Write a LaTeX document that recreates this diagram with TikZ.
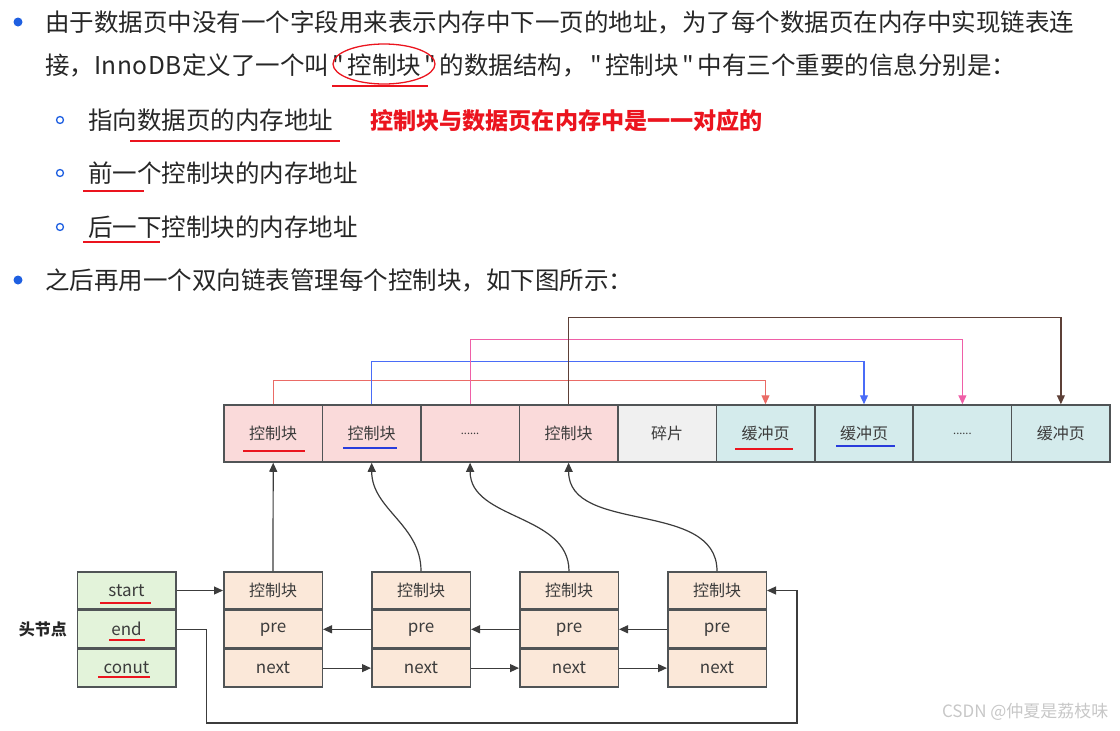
\documentclass[tikz,border=0pt]{standalone}
\usepackage{fontspec}
\setmainfont{Noto Sans CJK SC}[Ligatures=TeXOff]
\usetikzlibrary{positioning, arrows.meta}
\definecolor{TextGray}{RGB}{38, 38, 38}
\definecolor{DiagText}{RGB}{60, 60, 60}
\definecolor{BulletBlue}{RGB}{30, 95, 225}
\definecolor{BorderGray}{RGB}{80, 84, 86}
\definecolor{CtrlPink}{RGB}{250, 218, 218}
\definecolor{FragGray}{RGB}{240, 240, 240}
\definecolor{BufCyan}{RGB}{212, 235, 236}
\definecolor{NodeOrange}{RGB}{251, 232, 217}
\definecolor{HeadGreen}{RGB}{227, 243, 218}
\definecolor{MarkRed}{RGB}{235, 20, 30}
\definecolor{MarkBlue}{RGB}{40, 60, 220}
\definecolor{LinkRed}{RGB}{234, 107, 102}
\definecolor{LinkBlue}{RGB}{74, 108, 247}
\definecolor{LinkPink}{RGB}{239, 95, 167}
\definecolor{LinkBrown}{RGB}{93, 64, 55}
\definecolor{LinkGray}{RGB}{60, 60, 60}
\newcommand{\qmark}{\kern3.5pt"\kern3.5pt}

\begin{document}
\begin{tikzpicture}[x=1pt, y=-1pt,
    para/.style={anchor=base west, inner sep=0pt, text=TextGray, font=\fontsize{24.5}{28}\selectfont},
    membox/.style={draw=BorderGray, line width=1.5pt, minimum width=98.5pt, minimum height=57pt, inner sep=0pt, text=DiagText, font=\fontsize{16}{16}\selectfont},
    cell/.style={draw=BorderGray, line width=1.5pt, minimum width=98.5pt, minimum height=37.3pt, inner sep=0pt, text=DiagText, font=\fontsize{17}{17}\selectfont},
    redline/.style={line width=1.6pt},
    link/.style={line width=1.2pt, -{Triangle[length=9pt, width=8pt]}},
  ]
  \useasboundingbox (0,0) rectangle (1120,731);

  % Bullet text
  \fill[BulletBlue] (18,22) circle (4.5);
  \node[para] (line1) at (45,31) {由于数据页中没有一个字段用来表示内存中下一页的地址，为了每个数据页在内存中实现链表连};
  \node[para] (line2) at (45,74) {接，I\kern.5pt n\kern.5pt n\kern.5pt o\kern.5pt D\kern.5pt B\kern.5pt 定义了一个叫\qmark 控制块\qmark 的数据结构，\qmark 控制块\qmark 中有三个重要的信息分别是：};
  \draw[MarkRed, line width=1.3pt] (384,64) ellipse (51 and 20);
  \draw[MarkRed, line width=1.1pt] (332,86) -- (428,86);

  \draw[BulletBlue, line width=1.3pt] (60,120) circle (3.5);
  \node[para] (item1) at (88,129) {指向数据页的内存地址};
  \node[anchor=base west, inner sep=0pt, text=MarkRed, font=\fontsize{23.1}{26}\selectfont\bfseries] (note) at (370,129) {控制块与数据页在内存中是一一对应的};
  \draw[MarkRed, redline] (130,141) -- (340,141);

  \draw[BulletBlue, line width=1.3pt] (60,173) circle (3.5);
  \node[para] (item2) at (88,182) {前一个控制块的内存地址};
  \draw[MarkRed, redline] (83,191) -- (144,191);

  \draw[BulletBlue, line width=1.3pt] (60,227) circle (3.5);
  \node[para] (item3) at (88,236) {后一下控制块的内存地址};
  \draw[MarkRed, redline] (83,242) -- (160,242);

  \fill[BulletBlue] (18,280) circle (4.5);
  \node[para] (line3) at (45,289) {之后再用一个双向链表管理每个控制块，如下图所示：};

  % Memory row
  \node[membox, fill=CtrlPink] (mem1) at (273.2,433.5) {控制块};
  \node[membox, fill=CtrlPink] (mem2) at (371.7,433.5) {控制块};
  \node[membox, fill=CtrlPink] (mem3) at (470.1,433.5) {\fontsize{11}{11}\selectfont ......};
  \node[membox, fill=CtrlPink] (mem4) at (568.6,433.5) {控制块};
  \node[membox, fill=FragGray] (mem5) at (667.0,433.5) {碎片};
  \node[membox, fill=BufCyan] (mem6) at (765.5,433.5) {缓冲页};
  \node[membox, fill=BufCyan] (mem7) at (864.0,433.5) {缓冲页};
  \node[membox, fill=BufCyan] (mem8) at (962.4,433.5) {\fontsize{11}{11}\selectfont ......};
  \node[membox, fill=BufCyan] (mem9) at (1060.9,433.5) {缓冲页};
  \draw[MarkRed, redline] (243,451) -- (305,451);
  \draw[MarkBlue, redline] (343,448) -- (397,448);
  \draw[MarkRed, redline] (735,449) -- (793,449);
  \draw[MarkBlue, redline] (836,446) -- (895,446);

  % Control block to buffer page
  \draw[link, LinkRed] (mem1.north) -- ++(0,-24) -| (mem6.north);
  \draw[link, LinkBlue] (mem2.north) -- ++(0,-43) -| (mem7.north);
  \draw[link, LinkPink] (mem3.north) -- ++(0,-65) -| (mem8.north);
  \draw[link, LinkBrown] (mem4.north) -- ++(0,-87) -| (mem9.north);

  % Head node
  \node[cell, fill=HeadGreen] (start) at (126.5,590.5) {start};
  \node[cell, fill=HeadGreen, below=0pt of start] (end) {end};
  \node[cell, fill=HeadGreen, below=0pt of end] (conut) {conut};
  \node[font=\fontsize{16}{16}\selectfont\bfseries, text=TextGray, left=6pt of end] (head) {头节点};
  \draw[MarkRed, redline] (100,603) -- (151,603);
  \draw[MarkRed, redline] (109,640) -- (145,640);
  \draw[MarkRed, redline] (98,677) -- (150,677);

  % Control blocks
  \node[cell, fill=NodeOrange, font=\fontsize{16}{16}\selectfont] (blk1) at (273,590.5) {控制块};
  \node[cell, fill=NodeOrange, below=0pt of blk1] (pre1) {pre};
  \node[cell, fill=NodeOrange, below=0pt of pre1] (next1) {next};
  \node[cell, fill=NodeOrange, font=\fontsize{16}{16}\selectfont] (blk2) at (421,590.5) {控制块};
  \node[cell, fill=NodeOrange, below=0pt of blk2] (pre2) {pre};
  \node[cell, fill=NodeOrange, below=0pt of pre2] (next2) {next};
  \node[cell, fill=NodeOrange, font=\fontsize{16}{16}\selectfont] (blk3) at (569,590.5) {控制块};
  \node[cell, fill=NodeOrange, below=0pt of blk3] (pre3) {pre};
  \node[cell, fill=NodeOrange, below=0pt of pre3] (next3) {next};
  \node[cell, fill=NodeOrange, font=\fontsize{16}{16}\selectfont] (blk4) at (717,590.5) {控制块};
  \node[cell, fill=NodeOrange, below=0pt of blk4] (pre4) {pre};
  \node[cell, fill=NodeOrange, below=0pt of pre4] (next4) {next};

  % Links between blocks
  \draw[link, LinkGray] (start.east) -- (blk1.west);
  \draw[link, LinkGray] (pre2.west) -- (pre1.east);
  \draw[link, LinkGray] (pre3.west) -- (pre2.east);
  \draw[link, LinkGray] (pre4.west) -- (pre3.east);
  \draw[link, LinkGray] (next1.east) -- (next2.west);
  \draw[link, LinkGray] (next2.east) -- (next3.west);
  \draw[link, LinkGray] (next3.east) -- (next4.west);
  \coordinate (loop) at (797,723);
  \draw[link, LinkGray] (end.east) -- ++(30,0) |- (loop) |- (blk4.east);

  % Blocks point at memory
  \draw[link, LinkGray] (blk1.north) -- (mem1.south);
  \draw[link, LinkGray] (blk2.north) to[out=90, in=-90] (mem2.south);
  \draw[link, LinkGray] (blk3.north) to[out=90, in=-90] (mem3.south);
  \draw[link, LinkGray] (blk4.north) to[out=90, in=-90] (mem4.south);

  % Watermark
  \node[anchor=east, text=black!22, font=\fontsize{17}{17}\selectfont] (wmark) at (1112,712) {CSDN @仲夏是荔枝味};
\end{tikzpicture}
\end{document}
